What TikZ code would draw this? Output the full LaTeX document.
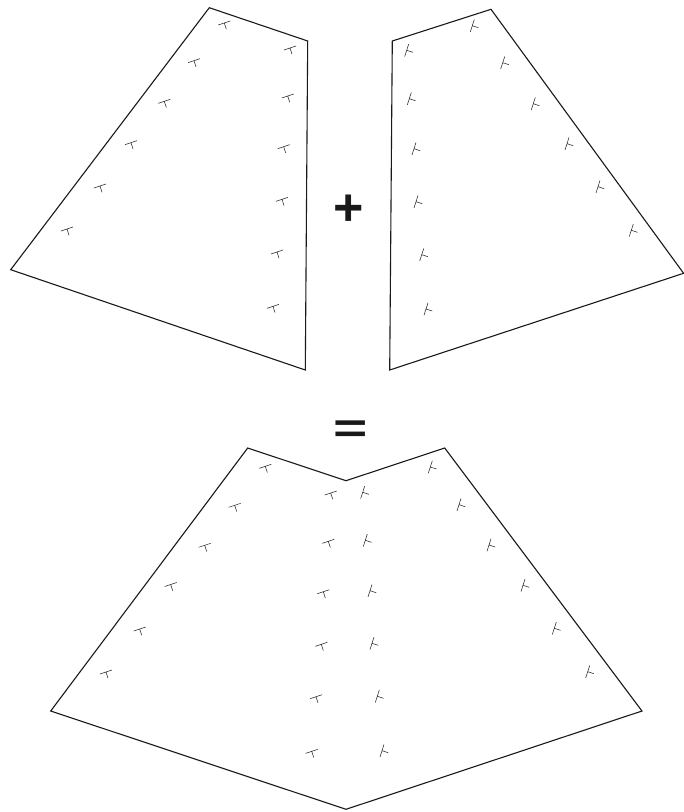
\documentclass[tikz,border=0pt]{standalone}
\usepackage{fontspec}
\setmainfont{Liberation Sans}
\tikzset{
  outline/.style={draw=black!90, line width=1.1pt, line join=miter},
  tick/.style={draw=black!85, line width=0.55pt},
  sign/.style={inner sep=0pt, text=black!90, font=\bfseries\fontsize{52}{52}\selectfont}
}
\newcommand{\leftticks}[1]{\foreach \p/\q in {#1}{\draw[tick] (\p-6,\q+2) -- (\p+6,\q-2) (\p,\q) -- (\p+2,\q+6.2);}}
\newcommand{\rightticks}[1]{\foreach \p/\q in {#1}{\draw[tick] (\p-2,\q+6.2) -- (\p+2,\q-6.2) (\p,\q) -- (\p+6.2,\q+2);}}
\begin{document}
\begin{tikzpicture}[x=1pt,y=-1pt]
\useasboundingbox (0,0) rectangle (684,812);
\draw[outline] (209.3,7.7) -- (307.7,41) -- (305.3,370) -- (10.7,269.7) -- cycle;
\draw[outline] (491,9.3) -- (392.3,41) -- (389.7,370) -- (683.6,273.3) -- cycle;
\draw[outline] (247.7,448) -- (346,480.7) -- (444.7,448) -- (642,711) -- (346,809.3) -- (50.7,711) -- cycle;
\leftticks{224.3/23,194/60.7,164.3/101.3,131/142.7,100/186,67/229,290/48,287.7/96,283.7/146.7,282/199.3,277/252,273/306.3}
\rightticks{472.3/25.7,406.7/50.3,409.3/98.7,414/148.7,416/201.7,421.7/254.7,426/309,502.7/62.7,533.3/103.7,567/143.7,598/186.7,631.3/230.3}
\leftticks{265.3/466.3,234.7/505.3,204.7/545.3,170.7/584.5,139.7/629,106/672,330.7/493,328.3/541.3,323.3/591.7,321.3/644.3,316/696.7,311.7/751.3}
\rightticks{430.3/467,459/504.7,489/545,523/585.3,554.3/628.3,587.7/671.7,362.7/492.3,365.3/540.3,370/590.7,372/643.3,377.3/696.3,382/750.7}
\node[sign] (plus) at (349,210) {+};
\node[sign, xscale=1.13, yscale=0.8] (equals) at (350.5,432) {=};
\end{tikzpicture}
\end{document}
